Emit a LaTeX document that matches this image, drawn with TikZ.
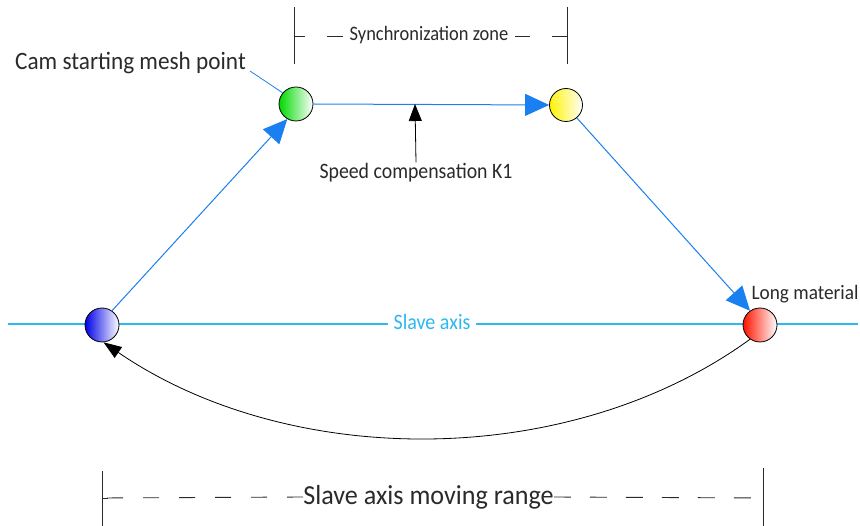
\documentclass[tikz,border=0pt]{standalone}
\usepackage{fontspec}
\usepackage{graphicx}
\setmainfont{Carlito}
\usetikzlibrary{arrows.meta,shadings}
\definecolor{flowblue}{HTML}{1A7FF0}
\definecolor{axisblue}{HTML}{2EB8F0}
\definecolor{txtgray}{HTML}{2A2A2A}
\newcommand{\narrow}[2]{\scalebox{#1}[1]{#2}}
\begin{document}
\begin{tikzpicture}[x=1pt,y=-1pt,
  ball/.style={circle,draw=black,line width=0.8pt,minimum size=34pt,inner sep=0pt},
  flow/.style={draw=flowblue,line width=1pt,-{Triangle[length=24pt,width=22pt]}},
  dim/.style={draw=txtgray,line width=0.9pt},
  lbl/.style={text=txtgray,inner sep=1pt}]
\useasboundingbox (0,0) rectangle (860,526);
% slave axis
\coordinate (axL) at (8,324);
\coordinate (axR) at (858,324);
\draw[axisblue,line width=1.1pt] (axL) -- (axR);
\node[fill=white,text=axisblue,font=\fontsize{22}{26}\selectfont,inner xsep=6pt,inner ysep=1pt] (slave) at (432,322) {\narrow{0.91}{Slave axis}};
% balls
\node[ball,left color=blue!90!black,right color=white] (blueb) at (102,325) {};
\node[ball,left color=green!85!black,right color=white] (greenb) at (296,104) {};
\node[ball,left color=yellow!90!orange,right color=white,minimum size=33pt] (yellowb) at (566,105) {};
\node[ball,left color=red!85!orange,right color=white] (redb) at (760,325) {};
\begin{scope}
\clip (yellowb.center) circle (15.5pt);
\draw[white!60!yellow,line width=0.5pt] (552,96) -- (582,95) (551,99) -- (583,99) (553,102) -- (580,101.5) (556,93) -- (577,92.5);
\end{scope}
% flows
\draw[flow] (blueb.55) -- (greenb.240);
\draw[flow] (greenb.east) -- (yellowb.west);
\draw[flow] (yellowb.-50) -- (redb.125);
% return arc
\draw[black,line width=0.8pt,-{Triangle[length=18pt,width=13pt]}] (redb.235) .. controls (570,470) and (290,470) .. (blueb.-85);
% labels
\node[lbl,font=\fontsize{25}{30}\selectfont,anchor=base west] (cam) at (14,70) {\narrow{0.93}{Cam starting mesh point}};
\coordinate (camend) at (250,71);
\draw[flowblue,line width=0.8pt] (camend) -- (greenb.140);
\node[lbl,font=\fontsize{20.5}{24}\selectfont] (longm) at (805,294) {\narrow{0.94}{Long material}};
\node[lbl,font=\fontsize{22}{26}\selectfont] (speed) at (416,173) {\narrow{0.9}{Speed compensation K1}};
\coordinate (speedtip) at (415,104);
\draw[black,line width=0.8pt,-{Triangle[length=17pt,width=13pt]}] (speed.north) -- (speedtip);
% synchronization zone
\coordinate (s1t) at (294,7); \coordinate (s1b) at (294,64);
\coordinate (s2t) at (567,7); \coordinate (s2b) at (567,64);
\draw[dim] (s1t) -- (s1b);
\draw[dim] (s2t) -- (s2b);
\node[lbl,font=\fontsize{20.5}{24}\selectfont,inner sep=0pt] (sync) at (429,35) {\narrow{0.9}{Synchronization zone}};
\draw[dim] (294,36) -- (305,36);
\draw[dim] (327,36) -- (343,36);
\draw[dim] (515,36) -- (530,36);
\draw[dim] (552,36) -- (567,36);
% moving range
\coordinate (r1t) at (102,471); \coordinate (r1b) at (102,526);
\coordinate (r2t) at (763,468); \coordinate (r2b) at (763,526);
\draw[dim] (r1t) -- (r1b);
\draw[dim] (r2t) -- (r2b);
\node[lbl,font=\fontsize{27.5}{32}\selectfont,inner sep=0pt] (range) at (428.5,497) {\narrow{0.95}{Slave axis moving range}};
\draw[dim,dash pattern=on 16pt off 20pt] (range.west) -- (102,498);
\draw[dim,dash pattern=on 17pt off 19pt] (range.east) -- (763,498);
\draw[dim] (102,498) -- (108,498);
\end{tikzpicture}
\end{document}
